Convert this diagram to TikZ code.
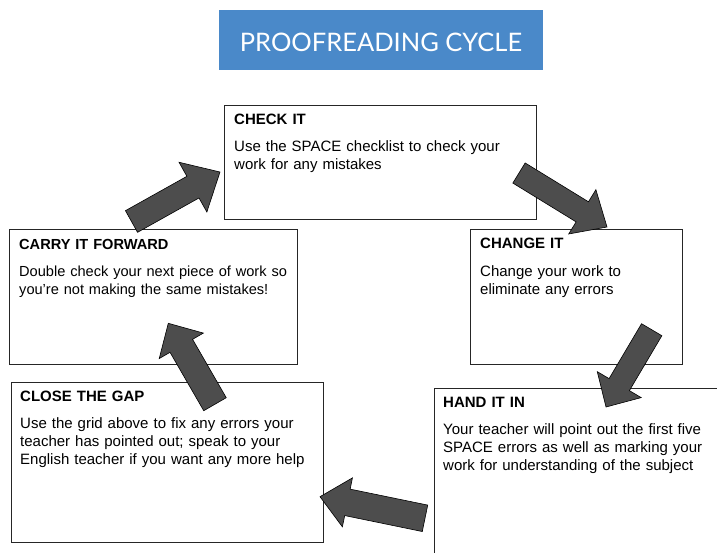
\documentclass[tikz,border=0pt]{standalone}
\usepackage{fontspec}
\setmainfont{Liberation Sans}
\newfontfamily\titlefont{Lato}
\usetikzlibrary{calc}
\definecolor{titleblue}{RGB}{74,137,201}
\definecolor{arrowgray}{RGB}{77,77,77}
\newcommand\blockarrow[5]{% tail, tip, shaft half, head half, head length
  \coordinate (#1b) at ($(#2)!#5!(#1)$);
  \filldraw[arrowshape]
    ($(#1)!#3!90:(#2)$) -- ($(#1b)!#3!90:(#2)$) -- ($(#1b)!#4!90:(#2)$) --
    (#2) --
    ($(#1b)!#4!-90:(#2)$) -- ($(#1b)!#3!-90:(#2)$) -- ($(#1)!#3!-90:(#2)$) -- cycle;
}
\begin{document}
\begin{tikzpicture}[x=1pt,y=-1pt,
  box/.style={draw=black!85, line width=0.8pt, inner sep=0pt, anchor=north west, fill=white},
  txt/.style={anchor=north west, inner sep=0pt, text width=330pt, align=left,
              font=\fontsize{15}{18}\selectfont},
  arrowshape/.style={fill=arrowgray, draw=black, line width=0.6pt, line join=miter},
  titlebox/.style={fill=titleblue, inner sep=0pt, anchor=north west},
  titletext/.style={text=white, inner sep=0pt, text height=18pt, text depth=0pt,
              font=\titlefont\fontsize{25.5}{30}\selectfont}
]
\useasboundingbox (0,0) rectangle (717,552);
\clip (0,0) rectangle (717,552);

% title
\node[titlebox, minimum width=324pt, minimum height=60pt] (title) at (219,10) {};
\node[titletext] (titletxt) at (381,42.5) {PROOFREADING CYCLE};

% boxes
\node[box, minimum width=312pt, minimum height=114pt] (check) at (224,105) {};
\node[box, minimum width=288pt, minimum height=135pt] (carry) at (9,229) {};
\node[box, minimum width=212pt, minimum height=135pt] (change) at (470,229) {};
\node[box, minimum width=312pt, minimum height=160pt] (close) at (11,382) {};
\node[box, minimum width=320pt, minimum height=200pt] (hand) at (434,388) {};

% texts
\node[txt] (checktxt) at (234,111.4) {\strut\textbf{CHECK IT}\\[9.5pt]
  Use the SPACE checklist to check your\\work for any mistakes};
\node[txt, font=\fontsize{14.6}{18}\selectfont] (carrytxt) at (19,236.4) {\strut\textbf{CARRY IT FORWARD}\\[9.5pt]
  Double check your next piece of work so\\you’re not making the same mistakes!};
\node[txt] (changetxt) at (480,235.9) {\strut\textbf{CHANGE IT}\\[9.5pt]
  Change your work to\\eliminate any errors};
\node[txt] (closetxt) at (20,388.4) {\strut\textbf{CLOSE THE GAP}\\[9.5pt]
  Use the grid above to fix any errors your\\teacher has pointed out; speak to your\\English teacher if you want any more help};
\node[txt] (handtxt) at (443,394.4) {\strut\textbf{HAND IT IN}\\[9.5pt]
  Your teacher will point out the first five\\SPACE errors as well as marking your\\work for understanding of the subject};

% arrows
\coordinate (a1) at (131.5,221.5); \coordinate (a1tip) at (220,172);
\coordinate (a2) at (519,173);     \coordinate (a2tip) at (607,227);
\coordinate (a3) at (651.7,329.7); \coordinate (a3tip) at (606,407);
\coordinate (a4) at (425,518.3);   \coordinate (a4tip) at (320,496.7);
\coordinate (a5) at (215,404.2);   \coordinate (a5tip) at (168.3,323.3);
\blockarrow{a1}{a1tip}{12.4pt}{28.5pt}{31pt}
\blockarrow{a2}{a2tip}{11.8pt}{26pt}{29pt}
\blockarrow{a3}{a3tip}{11.8pt}{25.5pt}{26pt}
\blockarrow{a4}{a4tip}{13.5pt}{25pt}{28pt}
\blockarrow{a5}{a5tip}{13pt}{25.5pt}{26pt}
\end{tikzpicture}
\end{document}
